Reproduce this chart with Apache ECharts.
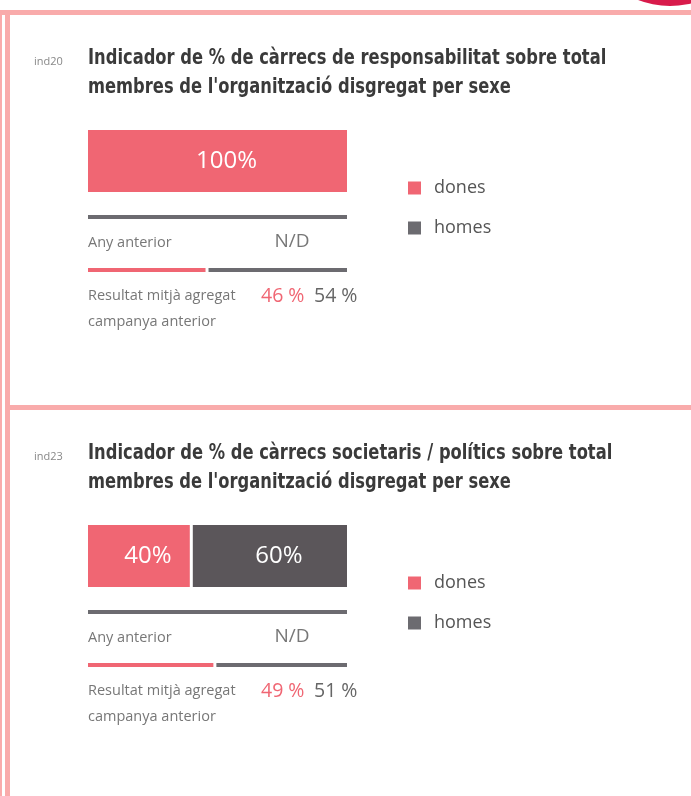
<!DOCTYPE html>
<html>
<head>
<meta charset="utf-8">
<script src="https://cdn.jsdelivr.net/npm/echarts@6/dist/echarts.min.js"></script>
<style>
  html, body { margin: 0; padding: 0; background: #fff; }
  #chart { width: 691px; height: 796px; }
</style>
</head>
<body>
<div id="chart"></div>
<script>
// indicator data
const codes = ["ind20", "ind23"];
const titles = [
  "Indicador de % de càrrecs de responsabilitat sobre total\nmembres de l'organització disgregat per sexe",
  "Indicador de % de càrrecs societaris / polítics sobre total\nmembres de l'organització disgregat per sexe",
];
const donesPct = [100, 40];
const homesPct = [0, 60];
const prevYear = ["N/D", "N/D"];
const avgDones = [46, 49];
const avgHomes = [54, 51];

const PINK = "#f06673";
const DARK = "#5b565a";
const GRAY = "#6c6b70";
const BORDER = "#f9abab";
const TEXT = "#777";
const FONT = "'Open Sans', 'Noto Sans', sans-serif";
const TITLE_FONT = "'Liberation Sans Narrow', 'DejaVu Sans Condensed', sans-serif";
const STEP = 395;

const el = document.getElementById("chart");
const inst = echarts.init(el, null, { renderer: "canvas" });

const grid = [], xAxis = [], yAxis = [], series = [], legend = [];
const graphic = [
  { type: "rect", shape: { x: 0, y: 10, width: 2, height: 786 }, style: { fill: BORDER } },
  { type: "rect", shape: { x: 5, y: 10, width: 5, height: 786 }, style: { fill: BORDER } },
  { type: "rect", shape: { x: 0, y: 10, width: 691, height: 5 }, style: { fill: BORDER } },
  { type: "rect", shape: { x: 10, y: 405, width: 681, height: 5 }, style: { fill: BORDER } },
  { type: "circle", shape: { cx: 670, cy: -82, r: 88 }, style: { fill: "#d81b4b" } },
];

function txt(x, y, text, size, color, extra) {
  return {
    type: "text", x, y,
    style: Object.assign({
      text, fill: color, fontSize: size, fontFamily: FONT,
      verticalAlign: "middle", align: "left",
    }, extra || {}),
  };
}

codes.forEach((code, i) => {
  const dy = i * STEP;
  const g = i * 2;

  // border is drawn inside the bar, 1.5px white gives the small gap between segments
  grid.push({ left: 86.5, top: 128.5 + dy, width: 262, height: 65 });
  grid.push({ left: 86.5, top: 266.5 + dy, width: 262, height: 7 });
  [g, g + 1].forEach((gi) => {
    xAxis.push({ gridIndex: gi, type: "value", min: 0, max: 100, show: false });
    yAxis.push({ gridIndex: gi, type: "category", data: [code], show: false });
  });

  const barLabel = {
    show: true, position: "inside", offset: [9, 0], color: "#fff", fontSize: 24, fontFamily: FONT,
    formatter: (p) => (p.value > 0 ? p.value + "%" : ""),
  };
  const seg = (color) => ({ color, borderColor: "#fff", borderWidth: 1.5 });
  series.push(
    { name: "dones", type: "bar", stack: "cur" + i, xAxisIndex: g, yAxisIndex: g, barWidth: 65,
      data: [donesPct[i]], label: barLabel, itemStyle: seg(PINK) },
    { name: "homes", type: "bar", stack: "cur" + i, xAxisIndex: g, yAxisIndex: g, barWidth: 65,
      data: [homesPct[i]], label: barLabel, itemStyle: seg(DARK) },
    { name: "dones", type: "bar", stack: "avg" + i, xAxisIndex: g + 1, yAxisIndex: g + 1, barWidth: 7,
      data: [avgDones[i]], itemStyle: seg(PINK) },
    { name: "homes", type: "bar", stack: "avg" + i, xAxisIndex: g + 1, yAxisIndex: g + 1, barWidth: 7,
      data: [avgHomes[i]], itemStyle: seg(GRAY) }
  );

  legend.push({
    orient: "vertical", left: 408, top: 179 + dy, padding: 0,
    icon: "rect", itemWidth: 13, itemHeight: 13, itemGap: 22,
    selectedMode: false,
    data: [
      { name: "dones", itemStyle: { color: PINK, borderWidth: 0 } },
      { name: "homes", itemStyle: { color: GRAY, borderWidth: 0 } },
    ],
    textStyle: { fontSize: 18, color: "#555", fontFamily: FONT, padding: [0, 0, 0, 8] },
  });

  graphic.push(
    txt(34, 62 + dy, code, 11, "#888"),
    {
      type: "text", x: 88, y: 44 + dy, scaleX: 0.885,
      style: {
        text: titles[i], fill: "#3a3a3a", fontSize: 20.5, fontWeight: "bold",
        fontFamily: TITLE_FONT, lineHeight: 29, verticalAlign: "top",
      },
    },
    { type: "rect", shape: { x: 88, y: 215, width: 259, height: 4 }, y: dy, style: { fill: GRAY } },
    txt(88, 243 + dy, "Any anterior", 14.5, TEXT),
    txt(292, 242 + dy, prevYear[i], 19, TEXT, { align: "center" }),
    {
      type: "text", x: 88, y: 283 + dy,
      style: {
        text: "Resultat mitjà agregat\ncampanya anterior", fill: TEXT, fontSize: 14.5,
        fontFamily: FONT, lineHeight: 26, verticalAlign: "top",
      },
    },
    txt(261, 296 + dy, avgDones[i] + " %", 19.5, PINK),
    txt(314, 296 + dy, avgHomes[i] + " %", 19.5, "#666")
  );
});

inst.setOption({
  animation: false,
  grid, xAxis, yAxis, series, legend, graphic,
});

window.addEventListener("resize", () => inst.resize());
</script>
</body>
</html>
